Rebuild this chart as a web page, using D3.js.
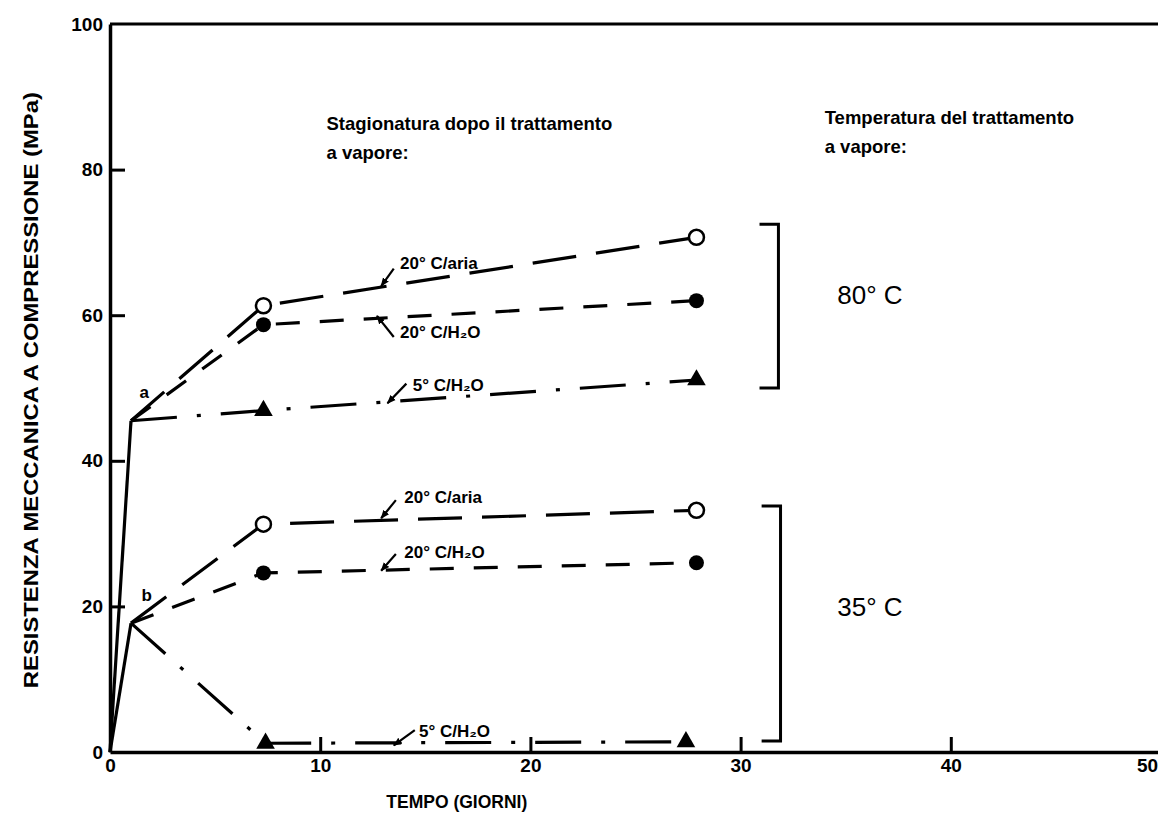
<!DOCTYPE html>
<html>
<head>
<meta charset="utf-8">
<script src="https://cdn.jsdelivr.net/npm/d3@7/dist/d3.min.js"></script>
<style>
  html, body { margin: 0; padding: 0; background: #fff; }
  svg { display: block; font-family: "Liberation Sans", Arial, sans-serif; }
</style>
</head>
<body>
<svg id="chart" width="1158" height="813"></svg>
<script>
// ---------------- data ----------------
const xTicks = [0, 10, 20, 30, 40, 50];
const yTicks = [0, 20, 40, 60, 80, 100];

// steam-cure at 80 °C (corner "a") and 35 °C (corner "b")
const solid80 = [[0, 0], [1, 45.5]];
const solid35 = [[0, 0], [1, 17.7]];

const days = [1, 7.3, 27.9];
const aria80 = [45.5, 61.3, 70.7];
const h2o80  = [45.5, 58.7, 62.0];
const cold80 = [45.5, 46.9, 51.1];

const aria35 = [17.7, 31.3, 33.2];
const h2o35  = [17.7, 24.6, 26.0];
const coldDays35 = [1, 7.4, 27.4];
const cold35 = [17.7, 1.2, 1.4];

// annotations: text, text position, arrow start, arrow tip (data units)
const labels = [
  { t: "20° C/aria", x: 13.8, y: 66.4, ax: 13.5, ay: 66.4, tx: 12.9, ty: 64.0 },
  { t: "20° C/H₂O",  x: 13.8, y: 56.8, ax: 13.5, ay: 57.0, tx: 12.7, ty: 59.9 },
  { t: "5° C/H₂O",   x: 14.4, y: 49.6, ax: 14.1, ay: 50.6, tx: 13.2, ty: 47.9 },
  { t: "20° C/aria", x: 14.0, y: 34.2, ax: 13.6, ay: 34.6, tx: 12.9, ty: 32.1 },
  { t: "20° C/H₂O",  x: 14.0, y: 26.7, ax: 13.6, ay: 27.2, tx: 12.9, ty: 24.9 },
  { t: "5° C/H₂O",   x: 14.7, y: 2.0,  ax: 14.5, ay: 3.0,  tx: 13.5, ty: 0.9 }
];
const brackets = [
  { x0: 30.9, x1: 31.8, top: 72.5, bottom: 50.0, label: "80° C", ly: 61.6 },
  { x0: 31.0, x1: 31.9, top: 33.8, bottom: 1.5,  label: "35° C", ly: 18.7 }
];

// ---------------- scales ----------------
const svg = d3.select("#chart");
const x = d3.scaleLinear().domain([0, 50]).range([110, 1161]);
const y = d3.scaleLinear().domain([0, 100]).range([752, 24]);

svg.append("defs").append("marker")
  .attr("id", "arr").attr("viewBox", "0 0 10 10").attr("refX", 9).attr("refY", 5)
  .attr("markerWidth", 9).attr("markerHeight", 9).attr("markerUnits", "userSpaceOnUse")
  .attr("orient", "auto")
  .append("path").attr("d", "M0,1 L10,5 L0,9 Z").attr("fill", "#000");

// ---------------- axes ----------------
const gx = svg.append("g").attr("transform", `translate(0,${y(0)})`)
  .call(d3.axisBottom(x).tickValues(xTicks).tickSize(-15).tickPadding(7).tickSizeOuter(0));
const gy = svg.append("g").attr("transform", `translate(${x(0)},0)`)
  .call(d3.axisLeft(y).tickValues(yTicks).tickSize(-15).tickPadding(7).tickSizeOuter(0));
[gx, gy].forEach(g => {
  g.select(".domain").attr("stroke", "#000").attr("stroke-width", 3.5);
  g.selectAll(".tick line").attr("stroke", "#000").attr("stroke-width", 3);
  g.selectAll(".tick text").attr("fill", "#000")
    .style("font-size", "19px").style("font-weight", "bold");
});
gx.selectAll(".tick").filter(d => d === 0 || d === 50).select("line").remove();
gy.selectAll(".tick").filter(d => d === 0 || d === 100).select("line").remove();
gx.selectAll(".tick").filter(d => d === 50).select("text").attr("dx", -14);

// top border
svg.append("line").attr("x1", x(0)).attr("x2", x(50)).attr("y1", y(100)).attr("y2", y(100))
  .attr("stroke", "#000").attr("stroke-width", 3);

// axis titles
svg.append("text").attr("x", x(16.5)).attr("y", 808).attr("text-anchor", "middle")
  .style("font-size", "17.5px").style("font-weight", "bold").text("TEMPO (GIORNI)");
svg.append("text").attr("transform", `translate(38,${y(49.7)}) rotate(-90)`)
  .attr("text-anchor", "middle").style("font-size", "20px").style("font-weight", "bold")
  .attr("textLength", 596).attr("lengthAdjust", "spacingAndGlyphs")
  .text("RESISTENZA MECCANICA A COMPRESSIONE (MPa)");

// headers
const hdr = (xv, yv, lines) => {
  lines.forEach((s, i) => svg.append("text").attr("x", x(xv)).attr("y", y(yv) + i * 29)
    .style("font-size", "18.5px").style("font-weight", "bold").text(s));
};
hdr(10.3, 85.4, ["Stagionatura dopo il trattamento", "a vapore:"]);
hdr(34.0, 86.3, ["Temperatura del trattamento", "a vapore:"]);

// ---------------- lines ----------------
const line = d3.line().x(d => x(d[0])).y(d => y(d[1]));
const drawSeries = (pts, dash) => svg.append("path").datum(pts).attr("d", line)
  .attr("fill", "none").attr("stroke", "#000").attr("stroke-width", 3.2)
  .attr("stroke-dasharray", dash);

drawSeries(solid80, null);
drawSeries(solid35, null);
const ARIA = "44 20", H2O = "24 20", COLD = "46 20 4 20";
drawSeries(days.map((d, i) => [d, aria80[i]]), ARIA);
drawSeries(days.map((d, i) => [d, h2o80[i]]), H2O);
drawSeries(days.map((d, i) => [d, cold80[i]]), COLD);
drawSeries(days.map((d, i) => [d, aria35[i]]), ARIA);
drawSeries(days.map((d, i) => [d, h2o35[i]]), H2O);
drawSeries(coldDays35.map((d, i) => [d, cold35[i]]), COLD);

// ---------------- markers ----------------
const openPts = [[days[1], aria80[1]], [days[2], aria80[2]], [days[1], aria35[1]], [days[2], aria35[2]]];
const fillPts = [[days[1], h2o80[1]], [days[2], h2o80[2]], [days[1], h2o35[1]], [days[2], h2o35[2]]];
const triPts = [[days[1], cold80[1]], [days[2], cold80[2]], [coldDays35[1], cold35[1]], [coldDays35[2], cold35[2]]];

svg.selectAll(".open").data(openPts).join("circle").attr("class", "open")
  .attr("cx", d => x(d[0])).attr("cy", d => y(d[1])).attr("r", 7.5)
  .attr("fill", "#fff").attr("stroke", "#000").attr("stroke-width", 2.5);
svg.selectAll(".fill").data(fillPts).join("circle").attr("class", "fill")
  .attr("cx", d => x(d[0])).attr("cy", d => y(d[1])).attr("r", 7.5).attr("fill", "#000");
svg.selectAll(".tri").data(triPts).join("path").attr("class", "tri")
  .attr("d", d3.symbol().type(d3.symbolTriangle).size(150))
  .attr("transform", d => `translate(${x(d[0])},${y(d[1])})`).attr("fill", "#000");

// corner letters
svg.append("text").attr("x", x(1.4)).attr("y", y(48.6)).style("font-size", "17px")
  .style("font-weight", "bold").text("a");
svg.append("text").attr("x", x(1.5)).attr("y", y(20.8)).style("font-size", "17px")
  .style("font-weight", "bold").text("b");

// ---------------- annotations ----------------
labels.forEach(l => {
  svg.append("line").attr("x1", x(l.ax)).attr("y1", y(l.ay)).attr("x2", x(l.tx)).attr("y2", y(l.ty))
    .attr("stroke", "#000").attr("stroke-width", 2.2).attr("marker-end", "url(#arr)");
  svg.append("text").attr("x", x(l.x)).attr("y", y(l.y)).style("font-size", "17px")
    .style("font-weight", "bold").text(l.t);
});

// brackets
brackets.forEach(b => {
  svg.append("path")
    .attr("d", `M${x(b.x0)},${y(b.top)} H${x(b.x1)} V${y(b.bottom)} H${x(b.x0)}`)
    .attr("fill", "none").attr("stroke", "#000").attr("stroke-width", 3);
  svg.append("text").attr("x", x(34.6)).attr("y", y(b.ly)).style("font-size", "26px")
    .text(b.label);
});
</script>
</body>
</html>
